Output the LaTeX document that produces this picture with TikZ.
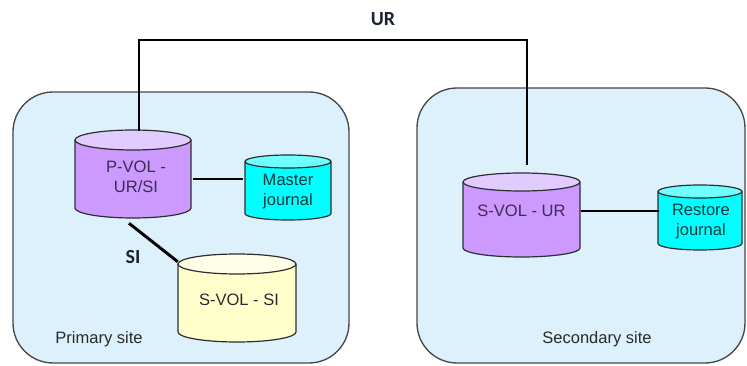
\documentclass[tikz,border=0pt]{standalone}
\usepackage{fontspec}
\setmainfont{Liberation Sans}
\newfontfamily\calibfont{Carlito}
\usetikzlibrary{calc}
\definecolor{sitebg}{HTML}{DDF1FD}
\definecolor{sitedraw}{HTML}{474747}
\definecolor{purpbody}{HTML}{CC99FF}
\definecolor{purptop}{HTML}{E2CCFF}
\definecolor{cyanbody}{HTML}{00FFFF}
\definecolor{cyantop}{HTML}{70FFFF}
\definecolor{yelbody}{HTML}{FFFFCC}
\definecolor{yeltop}{HTML}{FFFFE8}
\definecolor{edgecol}{HTML}{2E2E2E}
\definecolor{purptext}{HTML}{3E2A55}
\definecolor{cyantext}{HTML}{0B3B3B}
\definecolor{graytext}{HTML}{2A2A2A}
\definecolor{boldtext}{HTML}{1C2433}
\tikzset{
  sitebox/.style={draw=sitedraw, line width=1pt, fill=sitebg, rounded corners=30pt},
  cyledge/.style={draw=edgecol, line width=0.9pt},
  cylbox/.style={rectangle, inner sep=0pt, draw=none},
  cyltext/.style={font=\fontsize{12.4pt}{15pt}\selectfont, align=center, inner sep=0pt},
  sitelabel/.style={font=\fontsize{12.4pt}{15pt}\selectfont, text=graytext, inner sep=0pt},
  boldlabel/.style={font=\calibfont\bfseries\fontsize{15pt}{18pt}\selectfont, text=boldtext, inner sep=0pt},
  thickconn/.style={draw=black, line width=2.2pt},
  thinconn/.style={draw=black, line width=1.1pt}
}
\newcommand\drawcyl[8]{%
  \path[cyledge,fill=#7] ({#2-#5},#3) -- ({#2-#5},#4) arc[start angle=180,end angle=0,x radius=#5,y radius=#6] -- ({#2+#5},#3);
  \path[cyledge,fill=#8] (#2,#3) ellipse[x radius=#5,y radius=#6];
  \node[cylbox,minimum width={1.5*#5pt},minimum height={0.75*(#4-#3+2*#6)*1pt}] (#1) at (#2,{(#3+#4)/2}) {};
}
\begin{document}
\begin{tikzpicture}[x=0.75pt,y=-0.75pt]
\useasboundingbox (0,0) rectangle (747,366);
% sites
\path[sitebox] (13,92) rectangle (349,363);
\path[sitebox] (417,88) rectangle (745,363);
% cylinders
\drawcyl{pvol}{133}{140}{208}{58}{10}{purpbody}{purptop}
\drawcyl{mj}{288}{161.5}{213.5}{43}{6.5}{cyanbody}{cyantop}
\drawcyl{svolsi}{237}{264}{332}{59}{10}{yelbody}{yeltop}
\drawcyl{svolur}{521.5}{182}{248}{58.5}{9}{purpbody}{purptop}
\drawcyl{rj}{700}{191.5}{243.5}{42}{6.5}{cyanbody}{cyantop}
% texts
\node[cyltext, text=purptext] (pvolt) at (136,177) {P-VOL -\\UR/SI};
\node[cyltext, text=cyantext] (mjt) at (288,192) {Master\\journal};
\node[cyltext, text=graytext] (svolsit) at (239,300) {S-VOL - SI};
\node[cyltext, text=purptext] (svolurt) at (521.5,211) {S-VOL - UR};
\node[cyltext, text=cyantext] (rjt) at (701,222) {Restore\\journal};
\node[sitelabel] (prim) at (99,339) {Primary site};
\node[sitelabel] (sec) at (597,339) {Secondary site};
\node[boldlabel] (urlab) at (383,19) {UR};
\node[boldlabel] (silab) at (133,257) {SI};
% connectors
\coordinate (urL) at (139,40);
\coordinate (urR) at (527,40);
\draw[thickconn, line join=miter] ($(pvol.north -| urL)+(0,1)$) -- (urL) -- (urR) -- ($(svolur.north -| urR)+(0,-8)$);
\coordinate (mjy) at (0,179);
\draw[thinconn] ($(pvol.east |- mjy)+(2,0)$) -- ($(mj.west |- mjy)+(-2,0)$);
\coordinate (rjy) at (0,211);
\draw[thinconn] ($(svolur.east |- rjy)+(1,0)$) -- ($(rj.west |- rjy)+(1,0)$);
\draw[thickconn] ($(pvol.south)+(-4,5)$) -- ($(svolsi.north west)+(0,8)$);
\end{tikzpicture}
\end{document}
